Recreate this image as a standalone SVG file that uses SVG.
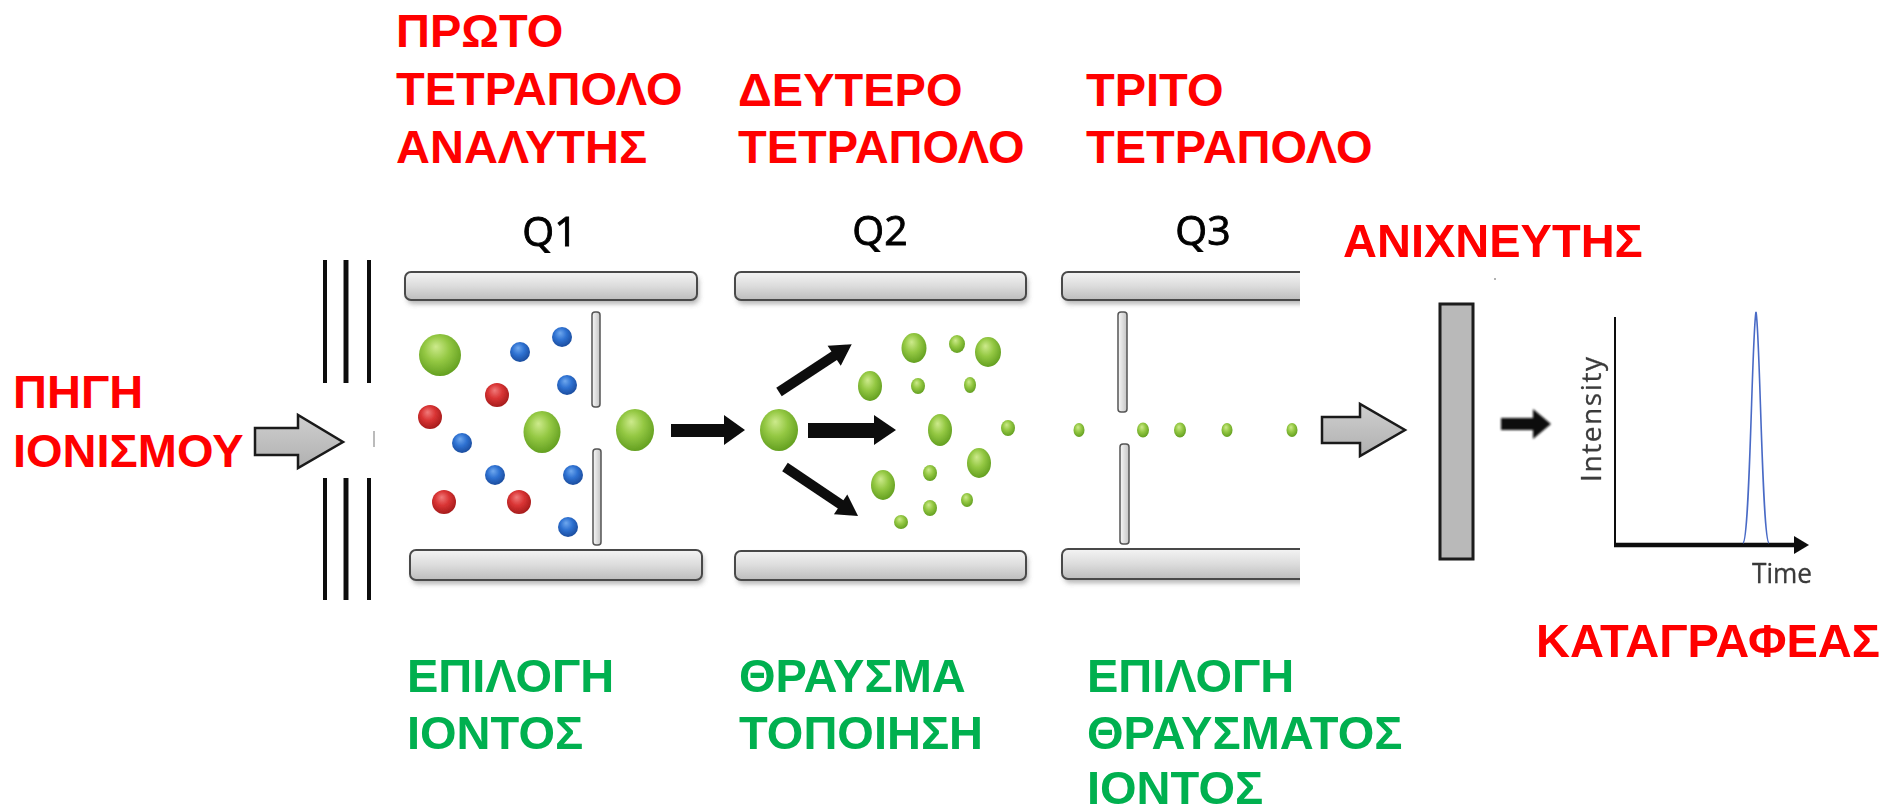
<svg xmlns="http://www.w3.org/2000/svg" width="1890" height="810" viewBox="0 0 1890 810">
  <style>
    .red { font-family: "Liberation Sans", Arial, "Noto Sans", sans-serif; font-weight: bold; font-size: 47px; fill: #ff0000; }
    .green { font-family: "Liberation Sans", Arial, "Noto Sans", sans-serif; font-weight: bold; font-size: 47px; fill: #00b050; }
    .qlabel { font-family: "Open Sans", "Liberation Sans", sans-serif; font-size: 41px; fill: #000; stroke: #000; stroke-width: 0.9; text-anchor: middle; }
    .axis-label { font-family: "Open Sans", "Liberation Sans", sans-serif; font-size: 28px; fill: #3a3a3a; stroke: #3a3a3a; stroke-width: 0.3; }
    .rod { fill: url(#rodFill); stroke: #4a4a4a; stroke-width: 2; }
    .rod-shadow { fill: #777; opacity: 0.55; filter: url(#soft3); }
    .plate { fill: url(#plateFill); stroke: #555; stroke-width: 1.5; }
    .slit { stroke: #111; fill: none; }
    .block-black { fill: #111; }
    .block-gray { fill: url(#grayArrow); stroke: #1a1a1a; stroke-width: 2.5; stroke-linejoin: miter; }
    .g { fill: url(#ionGreen); }
    .r { fill: url(#ionRed); }
    .b { fill: url(#ionBlue); }
  </style>
  <defs>
    <linearGradient id="rodFill" x1="0" y1="0" x2="0" y2="1">
      <stop offset="0" stop-color="#f4f4f4"/>
      <stop offset="0.5" stop-color="#dcdcdc"/>
      <stop offset="1" stop-color="#bdbdbd"/>
    </linearGradient>
    <linearGradient id="plateFill" x1="0" y1="0" x2="1" y2="0">
      <stop offset="0" stop-color="#f8f8f8"/>
      <stop offset="1" stop-color="#c4c4c4"/>
    </linearGradient>
    <linearGradient id="grayArrow" x1="0" y1="0" x2="0" y2="1">
      <stop offset="0" stop-color="#cfcfcf"/>
      <stop offset="1" stop-color="#b0b0b0"/>
    </linearGradient>
    <radialGradient id="ionGreen" cx="0.45" cy="0.4" r="0.6" fx="0.4" fy="0.3">
      <stop offset="0" stop-color="#cdea8c"/>
      <stop offset="0.5" stop-color="#94c843"/>
      <stop offset="1" stop-color="#64a021"/>
    </radialGradient>
    <radialGradient id="ionRed" cx="0.45" cy="0.4" r="0.6" fx="0.4" fy="0.3">
      <stop offset="0" stop-color="#f07a7a"/>
      <stop offset="0.5" stop-color="#d93434"/>
      <stop offset="1" stop-color="#a61c1c"/>
    </radialGradient>
    <radialGradient id="ionBlue" cx="0.45" cy="0.4" r="0.6" fx="0.4" fy="0.3">
      <stop offset="0" stop-color="#6fa8ee"/>
      <stop offset="0.5" stop-color="#2f72d2"/>
      <stop offset="1" stop-color="#1b4c9e"/>
    </radialGradient>
    <filter id="soft3" x="-10%" y="-50%" width="120%" height="200%">
      <feGaussianBlur stdDeviation="2.5"/>
    </filter>
    <filter id="soft" x="-10%" y="-10%" width="120%" height="120%">
      <feGaussianBlur stdDeviation="0.7"/>
    </filter>
    <filter id="softer" x="-20%" y="-20%" width="140%" height="140%">
      <feGaussianBlur stdDeviation="1.1"/>
    </filter>
    <clipPath id="q3clip">
      <rect x="1040" y="250" width="260" height="350"/>
    </clipPath>
  </defs>

  <rect width="1890" height="810" fill="#ffffff"/>

  <!-- stage titles -->
  <g id="title-q1">
    <text class="red" x="396" y="47">ΠΡΩΤΟ</text>
    <text class="red" x="396" y="105">ΤΕΤΡΑΠΟΛΟ</text>
    <text class="red" x="396" y="163">ΑΝΑΛΥΤΗΣ</text>
  </g>
  <g id="title-q2">
    <text class="red" x="738" y="106">ΔΕΥΤΕΡΟ</text>
    <text class="red" x="738" y="163">ΤΕΤΡΑΠΟΛΟ</text>
  </g>
  <g id="title-q3">
    <text class="red" x="1086" y="106">ΤΡΙΤΟ</text>
    <text class="red" x="1086" y="163">ΤΕΤΡΑΠΟΛΟ</text>
  </g>

  <!-- ion source -->
  <g id="ion-source">
    <text class="red" x="13" y="408">ΠΗΓΗ</text>
    <text class="red" x="13" y="467">ΙΟΝΙΣΜΟΥ</text>
    <g filter="url(#soft)">
      <line class="slit" x1="325" y1="260" x2="325" y2="383" stroke-width="4"/>
      <line class="slit" x1="346" y1="260" x2="346" y2="383" stroke-width="5"/>
      <line class="slit" x1="369" y1="260" x2="369" y2="383" stroke-width="4"/>
      <line class="slit" x1="325" y1="478" x2="325" y2="600" stroke-width="4"/>
      <line class="slit" x1="346" y1="478" x2="346" y2="600" stroke-width="5"/>
      <line class="slit" x1="369" y1="478" x2="369" y2="600" stroke-width="4"/>
      <line x1="374" y1="431" x2="374" y2="447" stroke="#bbb" stroke-width="2"/>
    </g>
  </g>

  <!-- Q1: precursor selection -->
  <g id="q1" filter="url(#soft)">
    <text class="qlabel" x="550" y="246">Q1</text>
    <rect class="rod-shadow" x="407" y="276" width="292" height="28" rx="6"/>
    <rect class="rod" x="405" y="272" width="292" height="28" rx="6"/>
    <rect class="rod-shadow" x="412" y="554" width="292" height="30" rx="6"/>
    <rect class="rod" x="410" y="550" width="292" height="30" rx="6"/>
    <rect class="plate" x="592" y="312" width="8" height="95" rx="3"/>
    <rect class="plate" x="593" y="449" width="8" height="96" rx="3"/>
    <ellipse class="g" cx="440" cy="355" rx="21" ry="21"/>
    <circle class="b" cx="520" cy="352" r="10"/>
    <circle class="b" cx="562" cy="337" r="10"/>
    <circle class="r" cx="497" cy="395" r="12"/>
    <circle class="b" cx="567" cy="385" r="10"/>
    <circle class="r" cx="430" cy="417" r="12"/>
    <circle class="b" cx="462" cy="443" r="10"/>
    <ellipse class="g" cx="542" cy="432" rx="18.5" ry="21"/>
    <ellipse class="g" cx="635" cy="430" rx="19" ry="21"/>
    <circle class="b" cx="495" cy="475" r="10"/>
    <circle class="b" cx="573" cy="475" r="10"/>
    <circle class="r" cx="444" cy="502" r="12"/>
    <circle class="r" cx="519" cy="502" r="12"/>
    <circle class="b" cx="568" cy="527" r="10"/>
    <text class="green" x="407" y="692">ΕΠΙΛΟΓΗ</text>
    <text class="green" x="407" y="749">ΙΟΝΤΟΣ</text>
  </g>

  <!-- Q2: collision cell -->
  <g id="q2" filter="url(#soft)">
    <text class="qlabel" x="880" y="245">Q2</text>
    <rect class="rod-shadow" x="737" y="276" width="291" height="28" rx="6"/>
    <rect class="rod" x="735" y="272" width="291" height="28" rx="6"/>
    <rect class="rod-shadow" x="737" y="555" width="291" height="29" rx="6"/>
    <rect class="rod" x="735" y="551" width="291" height="29" rx="6"/>
    <ellipse class="g" cx="779" cy="430" rx="19" ry="21"/>
    <ellipse class="g" cx="914" cy="348" rx="12.5" ry="15"/>
    <ellipse class="g" cx="957" cy="344" rx="8" ry="9"/>
    <ellipse class="g" cx="988" cy="352" rx="13" ry="15"/>
    <ellipse class="g" cx="870" cy="386" rx="12" ry="15"/>
    <ellipse class="g" cx="918" cy="386" rx="7" ry="8"/>
    <ellipse class="g" cx="970" cy="385" rx="6" ry="8"/>
    <ellipse class="g" cx="940" cy="430" rx="12" ry="16"/>
    <ellipse class="g" cx="1008" cy="428" rx="7" ry="8"/>
    <ellipse class="g" cx="979" cy="463" rx="12" ry="15"/>
    <ellipse class="g" cx="930" cy="473" rx="7" ry="8"/>
    <ellipse class="g" cx="883" cy="485" rx="12" ry="15"/>
    <ellipse class="g" cx="967" cy="500" rx="6" ry="7"/>
    <ellipse class="g" cx="930" cy="508" rx="7" ry="8"/>
    <ellipse class="g" cx="901" cy="522" rx="7" ry="7"/>
    <text class="green" x="739" y="692">ΘΡΑΥΣΜΑ</text>
    <text class="green" x="739" y="749">ΤΟΠΟΙΗΣΗ</text>
  </g>

  <!-- Q3: product ion selection -->
  <g id="q3" filter="url(#soft)">
    <text class="qlabel" x="1203" y="245">Q3</text>
    <g clip-path="url(#q3clip)">
      <rect class="rod-shadow" x="1064" y="276" width="280" height="28" rx="6"/>
      <rect class="rod" x="1062" y="272" width="280" height="28" rx="6"/>
      <rect class="rod-shadow" x="1064" y="553" width="280" height="30" rx="6"/>
      <rect class="rod" x="1062" y="549" width="280" height="30" rx="6"/>
    </g>
    <rect class="plate" x="1118" y="312" width="9" height="100" rx="3"/>
    <rect class="plate" x="1120" y="444" width="9" height="100" rx="3"/>
    <ellipse class="g" cx="1079" cy="430" rx="5.5" ry="7"/>
    <ellipse class="g" cx="1143" cy="430" rx="6" ry="7.5"/>
    <ellipse class="g" cx="1180" cy="430" rx="6" ry="7.5"/>
    <ellipse class="g" cx="1227" cy="430" rx="5.5" ry="7"/>
    <ellipse class="g" cx="1292" cy="430" rx="5.5" ry="7"/>
    <text class="green" x="1087" y="692">ΕΠΙΛΟΓΗ</text>
    <text class="green" x="1087" y="749">ΘΡΑΥΣΜΑΤΟΣ</text>
    <text class="green" x="1087" y="804">ΙΟΝΤΟΣ</text>
  </g>

  <!-- detector -->
  <g id="detector">
    <text class="red" x="1343" y="257">ΑΝΙΧΝΕΥΤΗΣ</text>
    <circle cx="1495" cy="279" r="1" fill="#999"/>
    <rect x="1440" y="304" width="33" height="255" fill="#b9b9b9" stroke="#1a1a1a" stroke-width="3" filter="url(#soft)"/>
  </g>

  <!-- recorder: intensity vs time trace -->
  <g id="recorder">
    <g filter="url(#soft)">
      <line x1="1615" y1="317" x2="1615" y2="547" stroke="#111" stroke-width="2"/>
      <line x1="1614" y1="545" x2="1797" y2="545" stroke="#111" stroke-width="4.5"/>
      <polygon points="1794,536 1809,545 1794,554" fill="#111"/>
      <path d="M1743,543 C1750,541 1752,330 1756,312 C1760,330 1762,541 1769,543" fill="none" stroke="#4a6bc6" stroke-width="1.6"/>
      <text class="axis-label" transform="translate(1601,482) rotate(-90)" textLength="125" lengthAdjust="spacing">Intensity</text>
      <text class="axis-label" x="1752" y="583" textLength="60" lengthAdjust="spacingAndGlyphs">Time</text>
    </g>
    <text class="red" x="1536" y="657">ΚΑΤΑΓΡΑΦΕΑΣ</text>
  </g>

  <!-- flow arrows -->
  <g id="connectors">
    <polygon class="block-gray" points="255,428 298,428 298,415 343,442 298,468 298,455 255,455"/>
    <g filter="url(#soft)">
      <polygon class="block-black" points="671,424 724,424 724,415 745,430 724,445 724,437 671,437"/>
      <polygon class="block-black" points="808,423 874,423 874,415 896,430 874,445 874,438 808,438"/>
      <polygon class="block-black" transform="translate(779,392) rotate(-33.3)" points="0,-5 66,-5 66,-12 87,0 66,12 66,5 0,5"/>
      <polygon class="block-black" transform="translate(785,467) rotate(33.9)" points="0,-5 67,-5 67,-12 88,0 67,12 67,5 0,5"/>
    </g>
    <polygon class="block-gray" points="1322,417 1360,417 1360,404 1405,430 1360,456 1360,443 1322,443"/>
    <polygon class="block-black" filter="url(#softer)" points="1501,418 1533,418 1533,409 1551,424 1533,439 1533,430 1501,430"/>
  </g>
</svg>
